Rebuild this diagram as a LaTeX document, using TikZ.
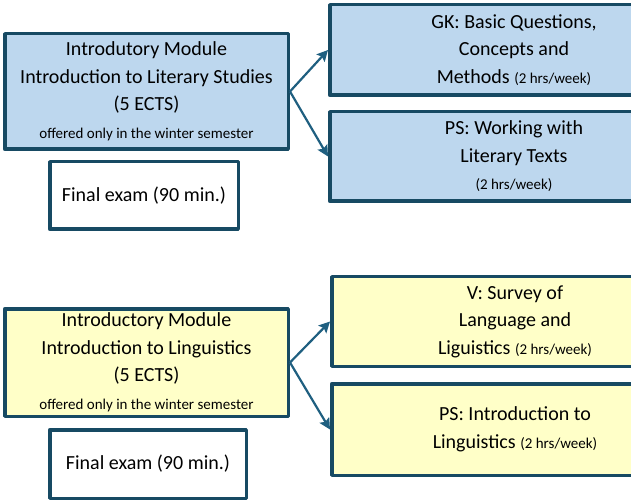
\documentclass[tikz,border=0pt]{standalone}
\usepackage{fontspec}
\setmainfont{Carlito}
\usetikzlibrary{arrows.meta}

\definecolor{framecol}{HTML}{174A63}
\definecolor{arrowcol}{HTML}{1F5F80}
\definecolor{litblue}{HTML}{BDD7EE}
\definecolor{lingyellow}{HTML}{FFFFC8}

\tikzset{
    modbox/.style={draw=framecol, line width=3.5pt, align=center, inner sep=2pt,
        font=\fontsize{20}{27.5}\selectfont},
    exambox/.style={modbox, fill=white},
    feed/.style={draw=arrowcol, line width=2.2pt, -{Stealth[length=11pt,width=11pt,inset=2pt]}}
}
\newcommand{\smalltxt}{\fontsize{15}{20}\selectfont}

\begin{document}
\begin{tikzpicture}[x=1pt, y=-1pt, line join = round]
    \clip (0,0) rectangle (631,502);

    % literary studies
    \node [modbox, fill=litblue, minimum width=283.5pt, minimum height=115.5pt] (litmod) at (146.5,91.5)
        {Introdutory Module\\Introduction to Literary Studies\\(5 ECTS)\\{\smalltxt offered only in the winter semester}};
    \node [exambox, minimum width=188.5pt, minimum height=67.5pt] (litexam) at (144,195.5) {Final exam (90 min.)};
    \node [modbox, fill=litblue, minimum width=368.5pt, minimum height=90.5pt] (gk) at (514,50)
        {GK: Basic Questions,\\Concepts and\\Methods {\smalltxt(2 hrs/week)}};
    \node [modbox, fill=litblue, minimum width=368.5pt, minimum height=89.5pt] (pslit) at (514,156.5)
        {PS: Working with\\Literary Texts\\{\smalltxt(2 hrs/week)}};

    % linguistics
    \node [modbox, fill=lingyellow, minimum width=283.5pt, minimum height=107.5pt] (lingmod) at (146.5,362.5)
        {Introductory Module\\Introduction to Linguistics\\(5 ECTS)\\{\smalltxt offered only in the winter semester}};
    \node [exambox, minimum width=196.5pt, minimum height=68.5pt] (lingexam) at (148,464) {Final exam (90 min.)};
    \node [modbox, fill=lingyellow, minimum width=366.5pt, minimum height=89.5pt] (vsurvey) at (515,321.5)
        {V: Survey of\\Language and\\Liguistics {\smalltxt(2 hrs/week)}};
    \node [modbox, fill=lingyellow, minimum width=366.5pt, minimum height=91.5pt] (psling) at (515,429.5)
        {PS: Introduction to\\Linguistics {\smalltxt(2 hrs/week)}};

    \draw[feed] (litmod.east) -- (gk.west);
    \draw[feed] (litmod.east) -- (pslit.west);
    \draw[feed] (lingmod.east) -- (vsurvey.west);
    \draw[feed] (lingmod.east) -- (psling.west);
\end{tikzpicture}
\end{document}
